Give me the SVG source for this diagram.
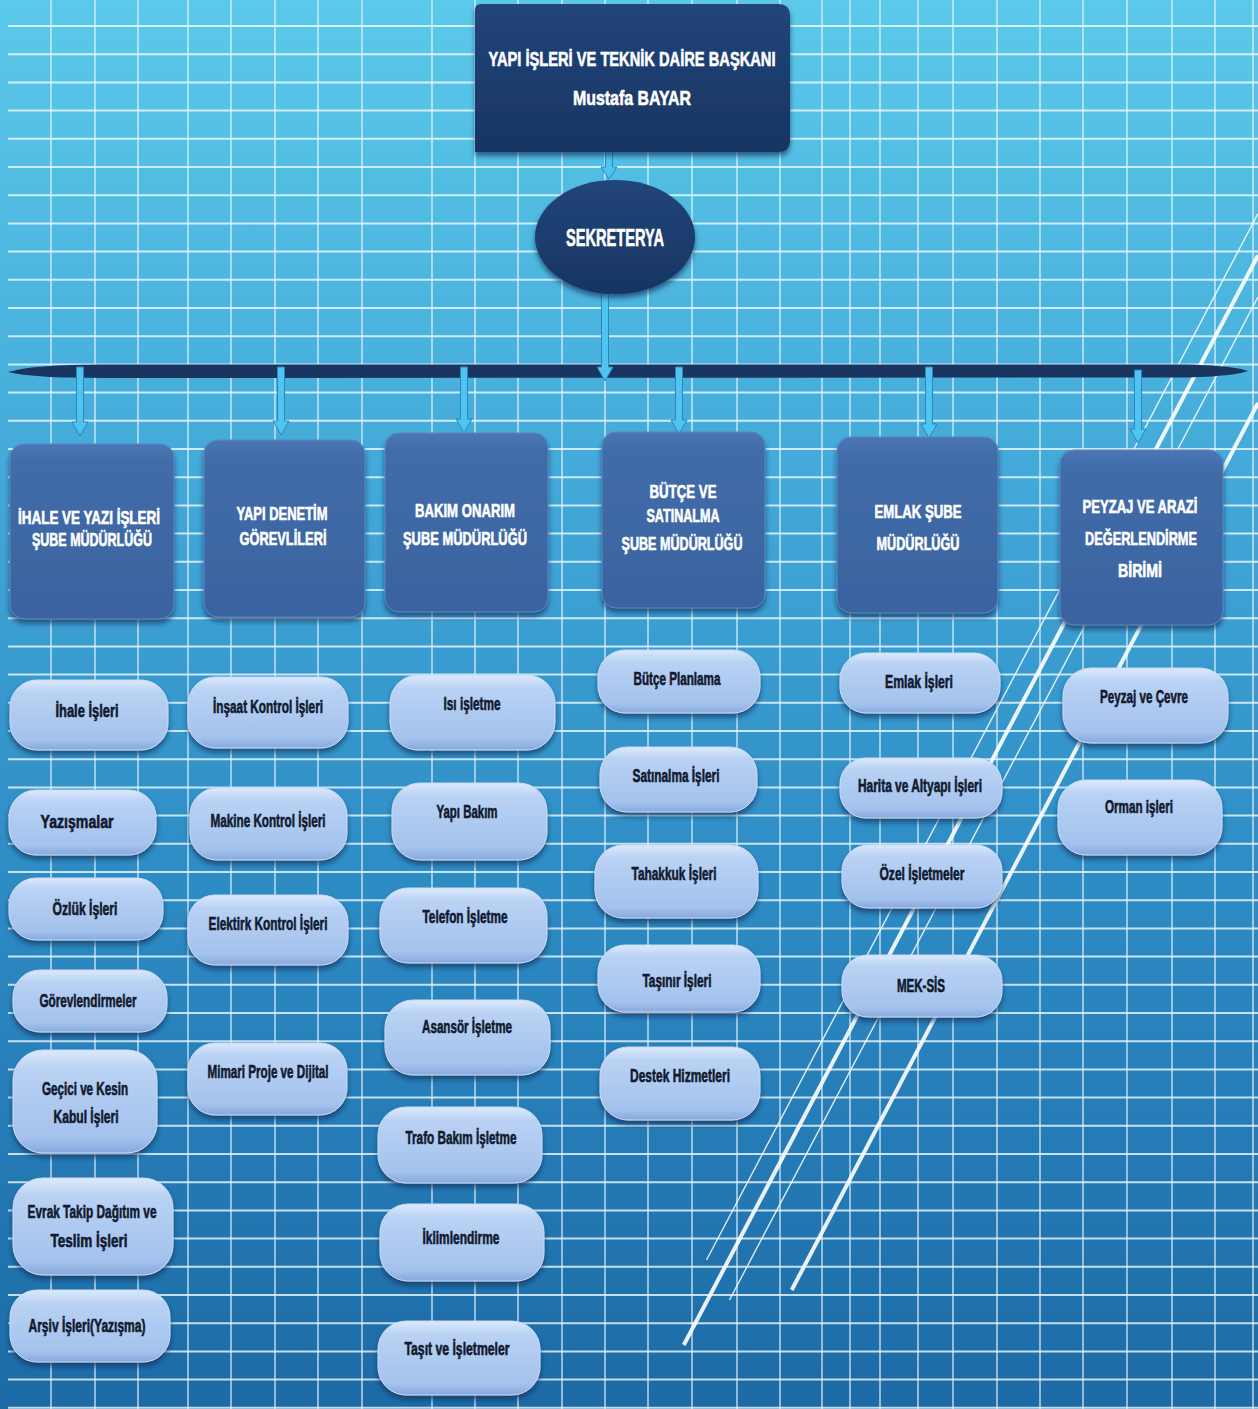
<svg xmlns="http://www.w3.org/2000/svg" width="1258" height="1409" viewBox="0 0 1258 1409">
<defs>
<linearGradient id="gBg" x1="0" y1="0" x2="0" y2="1">
<stop offset="0" stop-color="#5bc9e9"/>
<stop offset="0.3" stop-color="#46addb"/>
<stop offset="0.6" stop-color="#2f8ec6"/>
<stop offset="1" stop-color="#1c6aa6"/>
</linearGradient>
<linearGradient id="gNavy" x1="0" y1="0" x2="0" y2="1">
<stop offset="0" stop-color="#22457a"/>
<stop offset="1" stop-color="#173562"/>
</linearGradient>
<linearGradient id="gDept" x1="0" y1="0" x2="0" y2="1">
<stop offset="0" stop-color="#4a77b4"/>
<stop offset="0.1" stop-color="#416ca9"/>
<stop offset="1" stop-color="#3a63a0"/>
</linearGradient>
<linearGradient id="gPill" x1="0" y1="0" x2="0" y2="1">
<stop offset="0" stop-color="#dce9fc"/>
<stop offset="0.18" stop-color="#b9d2f4"/>
<stop offset="0.85" stop-color="#a4c2ed"/>
<stop offset="1" stop-color="#86a9dc"/>
</linearGradient>
<filter id="sh" x="-10%" y="-10%" width="120%" height="130%">
<feDropShadow dx="0" dy="4" stdDeviation="2.5" flood-color="#0a2a55" flood-opacity="0.65"/>
</filter>
</defs>
<style>
.gh{stroke:#eefaff;stroke-width:2;opacity:.8;fill:none}
.gv{stroke:#eefaff;stroke-width:1.4;opacity:.8;fill:none}
.dk{stroke:#ffffff;stroke-width:4;opacity:.9}
.dt{stroke:#ffffff;stroke-width:1.4;opacity:.85}
.arr{fill:#4fc4f0;stroke:#2a86bd;stroke-width:1}
.bar{fill:#1a355f}
.navy{fill:url(#gNavy);filter:url(#sh)}
.dept rect{fill:url(#gDept);stroke:#5a86c0;stroke-width:1;filter:url(#sh)}
.pill rect{fill:url(#gPill);stroke:#c6dbf7;stroke-width:1;filter:url(#sh)}
text{font-family:"Liberation Sans",Arial,sans-serif;font-weight:bold;text-anchor:middle}
.wt{fill:#ffffff;stroke:#ffffff;stroke-width:0.6}
.dept text{fill:#ffffff;stroke:#ffffff;stroke-width:0.6;font-size:18px}
.pill text{fill:#111a2f;stroke:#111a2f;stroke-width:0.6;font-size:17.5px}
</style>
<rect width="1258" height="1409" fill="url(#gBg)"/>
<g id="grid">
<path class="gh" d="M8 26H1258M8 54.2H1258M8 82.4H1258M8 110.6H1258M8 138.8H1258M8 167H1258M8 195.2H1258M8 223.4H1258M8 251.6H1258M8 279.8H1258M8 308H1258M8 336.2H1258M8 364.4H1258M8 392.6H1258M8 420.8H1258M8 449H1258M8 477.2H1258M8 505.4H1258M8 533.6H1258M8 561.8H1258M8 590H1258M8 618.2H1258M8 646.4H1258M8 674.6H1258M8 702.8H1258M8 731H1258M8 759.2H1258M8 787.4H1258M8 815.6H1258M8 843.8H1258M8 872H1258M8 900.2H1258M8 928.4H1258M8 956.6H1258M8 984.8H1258M8 1013H1258M8 1041.2H1258M8 1069.4H1258M8 1097.6H1258M8 1125.8H1258M8 1154H1258M8 1182.2H1258M8 1210.4H1258M8 1238.6H1258M8 1266.8H1258M8 1295H1258M8 1323.2H1258M8 1351.4H1258M8 1379.6H1258M8 1407.8H1258"/>
<path class="gv" d="M51 0V1409M95 0V1409M138 0V1409M188 0V1409M231 0V1409M275 0V1409M318 0V1409M362 0V1409M432 0V1409M475 0V1409M518 0V1409M562 0V1409M605 0V1409M648 0V1409M692 0V1409M737 0V1409M780 0V1409M822 0V1409M850 0V1409M880 0V1409M918 0V1409M953 0V1409M997 0V1409M1040 0V1409M1083 0V1409M1127 0V1409M1172 0V1409M1215 0V1409M1253 0V1409"/>
</g>
<g id="diagonals">
<line class="dt" x1="1258" y1="213.6" x2="706.5" y2="1260"/>
<line class="dk" x1="1258" y1="255.4" x2="683.8" y2="1345"/>
<line class="dt" x1="1258" y1="297" x2="729.5" y2="1300"/>
<line class="dk" x1="1258" y1="403" x2="791.7" y2="1290"/>
</g>
<g id="connectors">
<path class="bar" d="M8 372C30 366 60 364.5 120 364.5L1180 364.5C1220 365 1240 368 1248 371C1240 374 1220 377 1180 377.5L120 378C60 378 30 377 8 372Z"/>
<path class="arr" d="M605.5 126H612.5V167H617L609 179L601 167H605.5Z"/>
<path class="arr" d="M601.5 293H608.5V367H613L605 381L597 367H601.5Z"/>
<path class="arr" d="M76.5 367H83.5V422H88L80 436L72 422H76.5Z"/>
<path class="arr" d="M277.5 367H284.5V421H289L281 435L273 421H277.5Z"/>
<path class="arr" d="M460.5 367H467.5V419H472L464 433L456 419H460.5Z"/>
<path class="arr" d="M675.5 367H682.5V420H687L679 434L671 420H675.5Z"/>
<path class="arr" d="M925.5 367H932.5V424H937L929 438L921 424H925.5Z"/>
<path class="arr" d="M1134.5 370H1141.5V429H1146L1138 443L1130 429H1134.5Z"/>
</g>
<g id="node-baskan">
<path class="navy" d="M475 10Q475 4 481 4L778 4Q790 4 790 16L790 140Q790 152 778 152L475 152Z"/>
<text class="wt" x="632" y="66" font-size="21" textLength="287" lengthAdjust="spacingAndGlyphs">YAPI İŞLERİ VE TEKNİK DAİRE BAŞKANI</text>
<text class="wt" x="632" y="105" font-size="21" textLength="118" lengthAdjust="spacingAndGlyphs">Mustafa BAYAR</text>
</g>
<g id="node-sekreterya">
<ellipse class="navy" cx="615" cy="237" rx="80" ry="57"/>
<text class="wt" x="615" y="246" font-size="24" textLength="98" lengthAdjust="spacingAndGlyphs">SEKRETERYA</text>
</g>
<g id="node-ihale" class="dept">
<rect x="10" y="444" width="164" height="175" rx="14"/>
<text x="89" y="524" textLength="142" lengthAdjust="spacingAndGlyphs">İHALE VE YAZI İŞLERİ</text>
<text x="92" y="546" textLength="120" lengthAdjust="spacingAndGlyphs">ŞUBE MÜDÜRLÜĞÜ</text>
</g>
<g id="node-yapidenetim" class="dept">
<rect x="204" y="440" width="161" height="177" rx="14"/>
<text x="282" y="520" textLength="91" lengthAdjust="spacingAndGlyphs">YAPI DENETİM</text>
<text x="283" y="545" textLength="87" lengthAdjust="spacingAndGlyphs">GÖREVLİLERİ</text>
</g>
<g id="node-bakim" class="dept">
<rect x="385" y="433" width="163" height="179" rx="14"/>
<text x="465" y="517" textLength="100" lengthAdjust="spacingAndGlyphs">BAKIM ONARIM</text>
<text x="465" y="545" textLength="124" lengthAdjust="spacingAndGlyphs">ŞUBE MÜDÜRLÜĞÜ</text>
</g>
<g id="node-butce" class="dept">
<rect x="602" y="432" width="163" height="176" rx="14"/>
<text x="683" y="498" textLength="67" lengthAdjust="spacingAndGlyphs">BÜTÇE VE</text>
<text x="683" y="522" textLength="73" lengthAdjust="spacingAndGlyphs">SATINALMA</text>
<text x="682" y="550" textLength="121" lengthAdjust="spacingAndGlyphs">ŞUBE MÜDÜRLÜĞÜ</text>
</g>
<g id="node-emlak" class="dept">
<rect x="837" y="437" width="161" height="176" rx="14"/>
<text x="918" y="518" textLength="87" lengthAdjust="spacingAndGlyphs">EMLAK ŞUBE</text>
<text x="918" y="550" textLength="83" lengthAdjust="spacingAndGlyphs">MÜDÜRLÜĞÜ</text>
</g>
<g id="node-peyzaj" class="dept">
<rect x="1060" y="450" width="163" height="175" rx="14"/>
<text x="1140" y="513" textLength="115" lengthAdjust="spacingAndGlyphs">PEYZAJ VE ARAZİ</text>
<text x="1141" y="545" textLength="112" lengthAdjust="spacingAndGlyphs">DEĞERLENDİRME</text>
<text x="1140" y="577" textLength="44" lengthAdjust="spacingAndGlyphs">BİRİMİ</text>
</g>
<g id="node-ihale-isleri" class="pill"><rect x="10" y="680" width="158" height="70" rx="27"/><text x="87" y="717" textLength="63" lengthAdjust="spacingAndGlyphs">İhale İşleri</text></g>
<g id="node-yazismalar" class="pill"><rect x="9" y="790" width="147" height="65" rx="27"/><text x="77" y="828" textLength="73" lengthAdjust="spacingAndGlyphs">Yazışmalar</text></g>
<g id="node-ozluk" class="pill"><rect x="9" y="878" width="154" height="62" rx="27"/><text x="85" y="915" textLength="65" lengthAdjust="spacingAndGlyphs">Özlük İşleri</text></g>
<g id="node-gorevlendirmeler" class="pill"><rect x="13" y="970" width="154" height="62" rx="27"/><text x="88" y="1007" textLength="97" lengthAdjust="spacingAndGlyphs">Görevlendirmeler</text></g>
<g id="node-gecici" class="pill"><rect x="13" y="1050" width="144" height="103" rx="30"/><text x="85" y="1095" textLength="86" lengthAdjust="spacingAndGlyphs">Geçici ve Kesin</text><text x="86" y="1123" textLength="65" lengthAdjust="spacingAndGlyphs">Kabul İşleri</text></g>
<g id="node-evrak" class="pill"><rect x="13" y="1178" width="160" height="97" rx="30"/><text x="92" y="1218" textLength="129" lengthAdjust="spacingAndGlyphs">Evrak Takip Dağıtım ve</text><text x="89" y="1247" textLength="77" lengthAdjust="spacingAndGlyphs">Teslim İşleri</text></g>
<g id="node-arsiv" class="pill"><rect x="10" y="1290" width="160" height="72" rx="27"/><text x="87" y="1332" textLength="117" lengthAdjust="spacingAndGlyphs">Arşiv İşleri(Yazışma)</text></g>
<g id="node-insaat" class="pill"><rect x="188" y="677" width="160" height="71" rx="27"/><text x="268" y="713" textLength="110" lengthAdjust="spacingAndGlyphs">İnşaat Kontrol İşleri</text></g>
<g id="node-makine" class="pill"><rect x="190" y="788" width="157" height="72" rx="27"/><text x="268" y="827" textLength="115" lengthAdjust="spacingAndGlyphs">Makine Kontrol İşleri</text></g>
<g id="node-elektrik" class="pill"><rect x="188" y="895" width="160" height="70" rx="27"/><text x="268" y="930" textLength="119" lengthAdjust="spacingAndGlyphs">Elektirk Kontrol İşleri</text></g>
<g id="node-mimari" class="pill"><rect x="188" y="1043" width="159" height="72" rx="27"/><text x="268" y="1078" textLength="121" lengthAdjust="spacingAndGlyphs">Mimari Proje ve Dijital</text></g>
<g id="node-isi" class="pill"><rect x="390" y="675" width="165" height="75" rx="28"/><text x="472" y="710" textLength="57" lengthAdjust="spacingAndGlyphs">Isı işletme</text></g>
<g id="node-yapibakim" class="pill"><rect x="392" y="783" width="155" height="77" rx="28"/><text x="467" y="818" textLength="61" lengthAdjust="spacingAndGlyphs">Yapı Bakım</text></g>
<g id="node-telefon" class="pill"><rect x="380" y="888" width="167" height="75" rx="28"/><text x="465" y="923" textLength="85" lengthAdjust="spacingAndGlyphs">Telefon İşletme</text></g>
<g id="node-asansor" class="pill"><rect x="385" y="1000" width="165" height="75" rx="28"/><text x="467" y="1033" textLength="90" lengthAdjust="spacingAndGlyphs">Asansör İşletme</text></g>
<g id="node-trafo" class="pill"><rect x="378" y="1107" width="164" height="76" rx="28"/><text x="461" y="1144" textLength="111" lengthAdjust="spacingAndGlyphs">Trafo Bakım İşletme</text></g>
<g id="node-iklim" class="pill"><rect x="380" y="1204" width="164" height="77" rx="28"/><text x="461" y="1244" textLength="77" lengthAdjust="spacingAndGlyphs">İklimlendirme</text></g>
<g id="node-tasit" class="pill"><rect x="378" y="1321" width="162" height="74" rx="28"/><text x="457" y="1355" textLength="105" lengthAdjust="spacingAndGlyphs">Taşıt ve İşletmeler</text></g>
<g id="node-butceplan" class="pill"><rect x="598" y="650" width="162" height="63" rx="27"/><text x="677" y="685" textLength="87" lengthAdjust="spacingAndGlyphs">Bütçe Planlama</text></g>
<g id="node-satinalma" class="pill"><rect x="600" y="747" width="157" height="65" rx="27"/><text x="676" y="782" textLength="87" lengthAdjust="spacingAndGlyphs">Satınalma İşleri</text></g>
<g id="node-tahakkuk" class="pill"><rect x="595" y="845" width="163" height="73" rx="28"/><text x="674" y="880" textLength="85" lengthAdjust="spacingAndGlyphs">Tahakkuk İşleri</text></g>
<g id="node-tasinir" class="pill"><rect x="598" y="945" width="162" height="67" rx="27"/><text x="677" y="987" textLength="69" lengthAdjust="spacingAndGlyphs">Taşınır İşleri</text></g>
<g id="node-destek" class="pill"><rect x="600" y="1047" width="160" height="73" rx="28"/><text x="680" y="1082" textLength="100" lengthAdjust="spacingAndGlyphs">Destek Hizmetleri</text></g>
<g id="node-emlakisleri" class="pill"><rect x="840" y="653" width="160" height="60" rx="26"/><text x="919" y="688" textLength="68" lengthAdjust="spacingAndGlyphs">Emlak İşleri</text></g>
<g id="node-harita" class="pill"><rect x="840" y="758" width="162" height="60" rx="26"/><text x="920" y="792" textLength="124" lengthAdjust="spacingAndGlyphs">Harita ve Altyapı İşleri</text></g>
<g id="node-ozel" class="pill"><rect x="842" y="845" width="160" height="63" rx="26"/><text x="922" y="880" textLength="85" lengthAdjust="spacingAndGlyphs">Özel İşletmeler</text></g>
<g id="node-meksis" class="pill"><rect x="842" y="955" width="160" height="62" rx="26"/><text x="921" y="992" textLength="48" lengthAdjust="spacingAndGlyphs">MEK-SİS</text></g>
<g id="node-peyzajcevre" class="pill"><rect x="1063" y="668" width="165" height="75" rx="28"/><text x="1144" y="703" textLength="88" lengthAdjust="spacingAndGlyphs">Peyzaj ve Çevre</text></g>
<g id="node-orman" class="pill"><rect x="1058" y="780" width="164" height="75" rx="28"/><text x="1139" y="813" textLength="68" lengthAdjust="spacingAndGlyphs">Orman işleri</text></g>
</svg>
